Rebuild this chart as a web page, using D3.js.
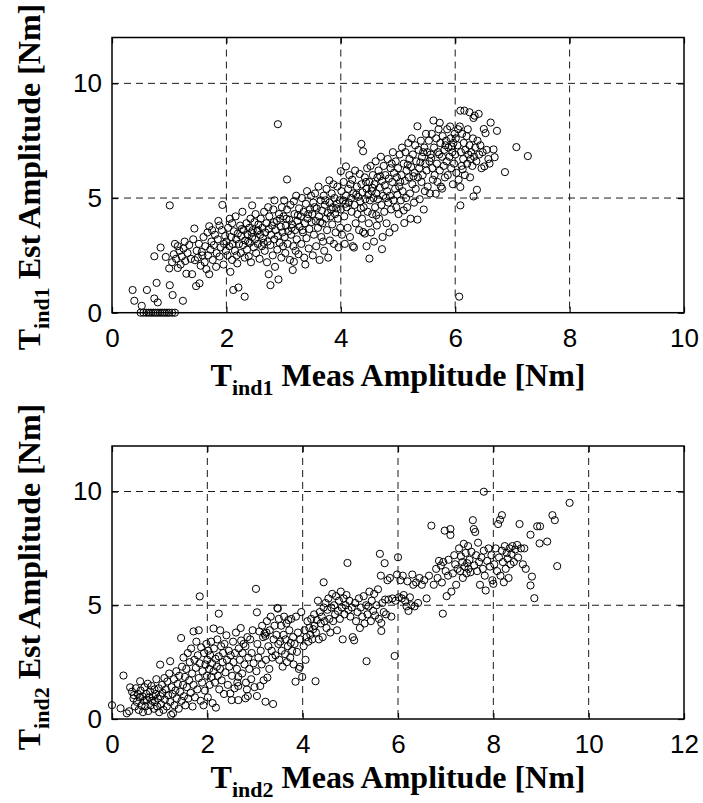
<!DOCTYPE html>
<html lang="en">
  <head>
    <meta charset="utf-8">
    <title>Tind amplitude</title>
    <script src="https://d3js.org/d3.v7.min.js"></script>
    <style>
      body { margin: 0; background: #fff; }
      .grid line { stroke: #000; stroke-width: 0.9; stroke-dasharray: 7,5; }
      .axis path { display: none; }
      .axis line { stroke: #000; stroke-width: 1.2; }
      .axis text { font-family: "Liberation Sans", Arial, sans-serif; font-size: 26px; fill: #000; }
      .frame { fill: none; stroke: #000; stroke-width: 1.5; }
      .title { font-family: "Liberation Serif", "Times New Roman", serif; font-weight: bold; font-size: 32px; }
      .pt { fill: none; stroke: #000; stroke-width: 1; }
    </style>
  </head>
  <body>
    <script>
      var ind1Points = [
        [0.36,0.99],[0.39,0.52],[0.52,0.30],[0.61,0.99],[0.74,2.46],[0.78,1.30],[0.74,0.62],[0.80,0.45],[0.85,2.84],[0.94,2.43],[1.01,4.68],[1.01,1.20],[1.06,0.77],[1.24,0.52],[1.0,1.93],
        [0.50,0],[0.55,0],[0.60,0],[0.64,0],[0.68,0],[0.72,0],[0.76,0],[0.80,0],[0.84,0],[0.88,0],[0.92,0],[0.96,0],[1.00,0],[1.05,0],[1.10,0],
        [1.05,2.2],[1.08,2.55],[1.1,3.0],[1.12,2.35],[1.15,1.95],[1.18,2.7],[1.2,2.1],[1.22,2.45],[1.25,2.8],[1.28,2.25],[1.3,1.7],[1.32,2.6],[1.35,2.95],[1.38,2.35],[1.4,1.68],[1.42,3.2],[1.44,3.67],[1.45,2.29],[1.47,1.16],[1.48,2.7],[1.15,2.9],[1.27,3.1],
        [1.5,2.4],[1.52,3.0],[1.53,1.28],[1.55,2.05],[1.57,2.65],[1.6,3.3],[1.62,2.2],[1.63,2.9],[1.65,1.9],[1.67,3.5],[1.68,2.5],[1.7,1.68],[1.7,3.77],[1.72,2.75],[1.74,3.1],[1.76,2.3],[1.78,2.95],[1.8,3.4],[1.82,2.0],[1.83,2.6],[1.85,3.2],[1.86,4.0],[1.88,2.45],[1.9,2.85],[1.92,3.6],[1.93,4.7],[1.95,2.1],[1.96,3.0],[1.98,3.35],[1.99,2.7],[1.58,2.5],[1.75,3.6],[1.88,3.8],
        [2.0,3.1],[2.02,2.5],[2.03,3.7],[2.05,2.9],[2.06,4.1],[2.07,1.78],[2.08,3.3],[2.1,2.3],[2.11,3.0],[2.12,0.99],[2.13,3.55],[2.15,2.7],[2.16,4.2],[2.17,3.2],[2.19,2.15],[2.2,3.45],[2.21,1.1],[2.22,3.0],[2.24,3.8],[2.25,2.6],[2.26,3.35],[2.28,4.4],[2.29,2.95],[2.3,3.6],[2.32,0.7],[2.32,2.4],[2.33,3.15],[2.35,3.9],[2.36,2.75],[2.37,3.4],[2.39,2.46],[2.4,3.7],[2.41,3.05],[2.42,4.1],[2.43,2.2],[2.45,4.68],[2.45,3.3],[2.46,3.6],[2.48,2.85],[2.49,3.95],[2.1,3.9],[2.18,2.5],[2.27,3.65],[2.38,3.1],[2.44,3.5],
        [2.5,3.2],[2.51,4.3],[2.52,2.6],[2.54,3.55],[2.55,3.0],[2.56,3.85],[2.58,2.35],[2.59,3.4],[2.6,4.1],[2.62,2.9],[2.63,3.7],[2.64,3.25],[2.66,4.4],[2.67,2.7],[2.68,3.5],[2.7,3.9],[2.71,2.2],[2.72,3.1],[2.74,1.68],[2.74,3.65],[2.75,4.2],[2.77,1.2],[2.77,2.95],[2.78,3.4],[2.8,3.8],[2.81,2.5],[2.82,4.5],[2.84,3.2],[2.84,4.9],[2.85,2.0],[2.86,3.6],[2.88,4.0],[2.89,2.75],[2.9,8.22],[2.9,3.35],[2.91,1.45],[2.92,4.3],[2.93,3.05],[2.95,3.75],[2.96,2.4],[2.97,4.6],[2.98,3.5],[2.99,2.9],[2.55,3.6],[2.65,3.05],[2.73,4.6],[2.83,3.95],[2.94,4.1],
        [3.0,4.2],[3.01,4.9],[3.02,3.3],[3.03,2.6],[3.04,3.8],[3.06,5.81],[3.06,4.5],[3.07,3.0],[3.08,3.55],[3.1,4.05],[3.11,2.3],[3.12,4.7],[3.13,3.4],[3.15,3.85],[3.16,1.86],[3.17,2.9],[3.18,2.22],[3.18,4.86],[3.19,4.3],[3.2,3.6],[3.22,5.1],[3.23,3.2],[3.24,4.0],[3.26,2.55],[3.27,4.55],[3.28,3.75],[3.3,4.2],[3.31,3.0],[3.32,5.0],[3.34,3.5],[3.35,4.4],[3.36,2.4],[3.37,3.9],[3.39,4.75],[3.4,3.25],[3.41,5.3],[3.42,4.1],[3.44,2.8],[3.45,3.65],[3.46,4.5],[3.48,5.1],[3.49,3.95],[3.05,4.1],[3.14,3.7],[3.25,4.25],[3.33,3.6],[3.43,4.3],[3.21,2.7],[3.38,2.1],
        [3.5,4.3],[3.51,2.5],[3.52,4.8],[3.53,3.4],[3.55,5.2],[3.56,4.0],[3.57,2.9],[3.58,4.55],[3.6,3.7],[3.61,5.5],[3.62,4.2],[3.63,2.3],[3.65,4.9],[3.66,3.3],[3.67,4.45],[3.68,3.9],[3.7,5.1],[3.71,2.7],[3.72,4.7],[3.74,4.1],[3.75,5.4],[3.76,3.6],[3.77,4.35],[3.78,2.4],[3.8,5.77],[3.8,4.8],[3.81,3.15],[3.83,4.5],[3.84,5.2],[3.85,3.85],[3.86,4.6],[3.88,3.0],[3.89,5.0],[3.9,4.3],[3.91,3.5],[3.93,4.75],[3.94,5.5],[3.95,4.1],[3.96,2.85],[3.98,4.9],[3.99,3.7],[3.54,4.6],[3.64,3.95],[3.73,4.9],[3.82,4.2],[3.92,4.55],[3.69,3.1],[3.87,5.6],
        [4.0,6.17],[4.0,4.5],[4.01,5.3],[4.02,3.4],[4.04,4.9],[4.05,5.7],[4.06,4.2],[4.07,3.0],[4.09,6.38],[4.09,5.1],[4.1,4.6],[4.12,3.7],[4.13,5.4],[4.14,4.8],[4.15,6.0],[4.16,3.3],[4.18,5.0],[4.19,4.4],[4.2,5.8],[4.21,2.9],[4.22,5.2],[4.23,2.84],[4.24,4.7],[4.25,6.2],[4.26,3.9],[4.28,5.5],[4.29,4.3],[4.3,5.05],[4.32,3.6],[4.33,6.05],[4.34,4.85],[4.36,7.36],[4.36,5.6],[4.37,4.1],[4.38,5.25],[4.39,7.04],[4.39,3.52],[4.4,4.6],[4.42,3.45],[4.42,5.9],[4.43,4.95],[4.45,2.9],[4.45,5.4],[4.46,6.3],[4.47,4.4],[4.48,5.15],[4.49,3.9],[4.5,2.36],[4.08,4.75],[4.17,5.6],[4.27,5.15],[4.35,4.55],[4.44,5.7],
        [4.5,5.7],[4.51,4.9],[4.52,6.4],[4.53,3.5],[4.54,5.3],[4.55,4.3],[4.56,6.0],[4.57,5.0],[4.58,3.1],[4.59,5.6],[4.6,4.6],[4.61,6.6],[4.62,5.2],[4.63,3.8],[4.64,5.9],[4.65,4.95],[4.66,6.2],[4.67,4.1],[4.68,5.45],[4.7,6.8],[4.71,4.7],[4.72,2.77],[4.72,5.75],[4.73,3.3],[4.74,5.1],[4.75,6.4],[4.76,4.4],[4.77,5.55],[4.78,6.0],[4.8,3.9],[4.81,5.3],[4.82,6.7],[4.83,4.8],[4.84,5.85],[4.85,3.5],[4.86,5.1],[4.87,6.3],[4.88,4.5],[4.9,5.7],[4.91,7.0],[4.92,4.9],[4.93,6.1],[4.94,3.7],[4.95,5.4],[4.96,6.6],[4.97,4.6],[4.98,5.9],[4.99,5.15],[4.55,5.45],[4.69,5.95],[4.79,5.0],[4.89,6.5],[4.62,4.25],
        [5.0,6.3],[5.01,4.3],[5.02,5.5],[5.03,6.9],[5.05,4.9],[5.06,6.0],[5.07,7.2],[5.08,5.3],[5.1,4.46],[5.1,6.5],[5.11,3.91],[5.12,5.75],[5.13,7.0],[5.14,5.0],[5.15,6.2],[5.16,4.6],[5.18,7.4],[5.19,5.9],[5.2,6.7],[5.21,5.2],[5.22,4.1],[5.23,6.35],[5.24,7.6],[5.25,5.6],[5.26,6.9],[5.28,4.8],[5.29,6.1],[5.3,7.3],[5.31,5.4],[5.32,6.6],[5.34,8.13],[5.34,4.06],[5.35,5.9],[5.36,7.1],[5.37,6.3],[5.38,4.95],[5.4,7.5],[5.41,5.7],[5.42,6.8],[5.43,6.0],[5.45,4.5],[5.46,7.2],[5.47,5.3],[5.48,6.5],[5.49,7.8],[5.04,5.7],[5.17,6.45],[5.27,5.95],[5.39,6.55],[5.44,7.0],
        [5.5,6.2],[5.51,7.0],[5.52,5.5],[5.54,7.5],[5.55,6.6],[5.56,5.2],[5.57,6.9],[5.59,7.8],[5.6,6.3],[5.61,5.8],[5.62,8.38],[5.63,7.2],[5.64,6.0],[5.66,5.19],[5.67,7.6],[5.68,6.5],[5.69,5.7],[5.7,7.0],[5.71,8.0],[5.73,8.28],[5.73,6.2],[5.74,7.4],[5.75,5.5],[5.77,5.41],[5.77,6.8],[5.78,7.7],[5.8,6.4],[5.81,7.1],[5.82,5.9],[5.84,7.5],[5.85,6.6],[5.86,8.0],[5.87,6.0],[5.88,7.2],[5.9,6.8],[5.91,8.12],[5.92,7.6],[5.93,6.3],[5.95,7.0],[5.96,5.6],[5.97,7.4],[5.98,6.5],[5.99,7.8],[5.58,6.75],[5.72,6.9],[5.83,7.3],[5.94,7.25],
        [6.0,6.9],[6.01,7.6],[6.02,6.1],[6.04,7.3],[6.05,8.0],[6.06,5.8],[6.07,0.70],[6.08,8.12],[6.09,8.81],[6.09,5.48],[6.09,4.68],[6.1,7.0],[6.11,6.4],[6.12,7.8],[6.14,6.7],[6.15,7.4],[6.16,8.81],[6.17,6.0],[6.18,7.1],[6.2,7.7],[6.21,6.5],[6.22,8.0],[6.23,6.9],[6.25,8.74],[6.25,7.3],[6.26,5.9],[6.28,7.0],[6.3,6.4],[6.31,7.6],[6.32,8.49],[6.32,5.07],[6.33,6.8],[6.34,8.59],[6.35,7.2],[6.37,6.6],[6.38,5.36],[6.39,7.5],[6.41,8.67],[6.42,6.9],[6.44,7.3],[6.46,6.3],[6.48,7.0],[6.5,8.01],[6.13,6.25],[6.27,6.7],
        [6.51,6.38],[6.53,7.83],[6.55,7.1],[6.58,6.7],[6.62,8.29],[6.67,7.12],[6.69,6.78],[6.73,7.93],[6.6,6.5],[6.87,6.13],[7.07,7.22],[7.27,6.83]
      ];

      var ind2Points = [
        [0.0,0.61],[0.18,0.47],[0.24,1.91],[0.31,0.25],[0.36,0.34],[0.38,1.39],[0.42,1.2],[0.45,0.9],[0.48,0.55],[0.5,1.35],[0.46,1.05],
        [0.52,0.75],[0.54,1.1],[0.56,0.4],[0.58,0.95],[0.59,1.66],[0.6,1.25],[0.62,0.6],[0.64,1.0],[0.65,0.3],[0.67,0.8],[0.68,1.4],[0.7,0.55],[0.72,1.1],[0.73,0.85],[0.75,1.55],[0.76,0.35],[0.78,0.95],[0.8,1.2],[0.81,0.6],[0.83,1.45],[0.84,0.8],[0.86,1.0],[0.88,0.45],[0.89,1.3],[0.9,0.75],[0.92,1.1],[0.93,1.75],[0.95,0.55],[0.96,0.9],[0.98,1.35],[0.99,0.3],
        [1.01,2.39],[1.02,1.0],[1.03,0.65],[1.05,1.5],[1.06,1.15],[1.08,0.4],[1.1,1.8],[1.11,0.85],[1.13,1.3],[1.15,0.55],[1.16,1.65],[1.18,1.05],[1.2,2.0],[1.22,2.54],[1.22,0.75],[1.24,0.18],[1.25,1.4],[1.27,1.1],[1.28,0.25],[1.3,1.75],[1.31,0.6],[1.33,1.25],[1.35,2.1],[1.36,0.9],[1.38,1.55],[1.4,0.45],[1.41,1.9],[1.43,1.2],[1.45,3.56],[1.46,0.8],[1.47,2.3],[1.49,1.5],
        [1.5,2.7],[1.51,1.0],[1.53,1.85],[1.54,0.6],[1.56,2.2],[1.57,1.4],[1.59,2.9],[1.6,0.9],[1.62,1.7],[1.63,2.5],[1.65,1.15],[1.66,3.1],[1.68,2.0],[1.69,0.55],[1.71,3.85],[1.71,1.5],[1.73,2.6],[1.74,0.95],[1.76,2.25],[1.77,3.4],[1.79,1.3],[1.8,2.8],[1.82,3.9],[1.82,1.8],[1.84,5.39],[1.84,2.45],[1.86,0.8],[1.87,3.15],[1.89,1.6],[1.9,2.1],[1.92,0.6],[1.93,2.9],[1.95,1.25],[1.96,2.4],[1.98,3.3],[1.99,1.9],
        [2.0,2.6],[2.01,0.95],[2.02,3.0],[2.04,2.2],[2.05,1.5],[2.06,2.8],[2.08,3.4],[2.09,1.85],[2.1,2.45],[2.11,0.7],[2.13,3.98],[2.13,2.1],[2.14,3.1],[2.16,1.6],[2.17,2.65],[2.18,0.5],[2.2,2.3],[2.21,3.5],[2.22,1.9],[2.24,4.63],[2.24,2.75],[2.25,1.3],[2.27,3.9],[2.27,2.2],[2.29,3.2],[2.3,1.7],[2.32,2.5],[2.33,2.9],[2.35,1.1],[2.36,3.3],[2.38,2.05],[2.4,3.68],[2.41,2.6],[2.43,1.5],[2.45,3.0],[2.46,2.3],[2.48,1.12],[2.49,2.8],
        [2.51,0.83],[2.52,1.9],[2.54,3.4],[2.55,2.5],[2.57,1.35],[2.58,2.9],[2.6,3.8],[2.62,2.2],[2.63,1.6],[2.65,0.83],[2.65,1.45],[2.65,1.85],[2.66,3.1],[2.68,2.6],[2.7,4.0],[2.71,3.45],[2.73,2.0],[2.74,2.9],[2.76,3.3],[2.78,2.4],[2.8,0.91],[2.8,3.2],[2.81,1.6],[2.83,1.3],[2.84,3.6],[2.85,1.01],[2.86,2.7],[2.88,2.2],[2.9,3.5],[2.92,1.75],[2.93,2.9],[2.95,3.9],[2.97,2.45],[2.99,1.4],
        [3.02,5.72],[3.03,2.1],[3.04,4.69],[3.04,1.01],[3.05,3.3],[3.07,2.7],[3.09,3.85],[3.11,1.45],[3.12,3.0],[3.14,2.4],[3.15,4.1],[3.17,3.6],[3.18,1.7],[3.2,3.75],[3.22,0.76],[3.22,3.65],[3.23,2.6],[3.24,3.8],[3.25,4.3],[3.26,1.82],[3.28,3.2],[3.3,2.2],[3.31,3.9],[3.33,4.5],[3.35,3.0],[3.36,2.7],[3.38,0.66],[3.39,3.5],[3.41,4.1],[3.43,2.8],[3.45,3.7],[3.47,4.88],[3.48,4.85],[3.49,3.3],
        [3.5,4.4],[3.51,2.6],[3.53,3.4],[3.55,4.1],[3.56,3.0],[3.58,2.3],[3.6,3.7],[3.61,4.5],[3.63,2.85],[3.64,3.5],[3.66,4.2],[3.67,2.5],[3.69,3.2],[3.7,4.35],[3.72,3.9],[3.74,2.7],[3.75,3.35],[3.76,4.4],[3.78,3.0],[3.8,3.6],[3.81,2.4],[3.83,3.3],[3.85,1.64],[3.86,4.5],[3.88,2.95],[3.9,3.8],[3.92,2.2],[3.94,2.29],[3.95,3.5],[3.97,4.7],[3.99,1.85],
        [4.02,3.2],[4.04,3.9],[4.06,2.6],[4.08,3.6],[4.1,4.3],[4.12,3.4],[4.14,4.0],[4.16,3.7],[4.18,4.4],[4.2,3.5],[4.22,3.95],[4.24,4.6],[4.25,4.1],[4.27,1.66],[4.28,3.8],[4.3,4.35],[4.32,5.2],[4.34,3.5],[4.36,4.7],[4.38,4.2],[4.4,4.5],[4.42,3.6],[4.44,6.01],[4.44,4.9],[4.46,4.3],[4.48,5.1],
        [4.5,4.0],[4.52,4.8],[4.54,5.3],[4.56,4.4],[4.58,3.8],[4.6,4.9],[4.62,5.5],[4.64,4.3],[4.66,5.0],[4.68,4.6],[4.7,5.4],[4.72,3.9],[4.74,4.75],[4.76,5.2],[4.78,4.4],[4.8,5.6],[4.82,4.9],[4.84,3.5],[4.86,5.3],[4.88,4.6],[4.9,5.0],[4.92,5.45],[4.94,6.86],[4.96,4.8],[4.98,5.2],
        [5.0,4.5],[5.03,4.9],[5.05,3.6],[5.08,3.46],[5.1,5.1],[5.12,4.3],[5.15,4.7],[5.18,5.3],[5.2,4.0],[5.22,4.9],[5.25,4.5],[5.28,5.4],[5.3,4.2],[5.33,5.0],[5.34,2.54],[5.36,4.6],[5.38,4.95],[5.4,5.6],[5.43,4.3],[5.45,5.2],[5.48,4.75],[5.5,5.5],[5.52,4.55],[5.55,5.0],[5.58,5.7],[5.6,4.4],[5.62,7.26],[5.64,6.3],[5.65,3.87],[5.65,4.22],[5.67,5.1],[5.7,4.7],[5.72,6.85],[5.73,5.25],[5.75,4.6],[5.78,6.1],[5.8,5.25],[5.83,6.2],[5.86,4.5],[5.88,5.3],[5.93,2.77],[5.95,5.2],[5.98,6.35],
        [6.0,7.11],[6.02,5.35],[6.05,6.1],[6.08,5.3],[6.1,6.3],[6.12,5.45],[6.15,5.2],[6.18,4.95],[6.2,6.05],[6.22,4.75],[6.25,5.35],[6.28,5.0],[6.3,6.35],[6.32,5.9],[6.35,4.95],[6.38,6.0],[6.42,5.1],[6.45,6.2],[6.5,5.9],[6.55,6.1],[6.6,5.3],[6.65,6.3],[6.7,8.5],[6.75,5.9],[6.8,6.6],[6.83,6.2],[6.86,6.95],[6.9,6.75],[6.92,6.0],[6.94,4.63],[6.95,6.9],[6.98,8.28],
        [7.0,6.5],[7.02,5.4],[7.05,6.3],[7.06,7.0],[7.1,8.35],[7.1,8.09],[7.12,5.6],[7.15,6.4],[7.18,7.2],[7.2,6.8],[7.22,5.9],[7.25,6.6],[7.28,7.5],[7.3,6.5],[7.32,7.15],[7.35,6.9],[7.36,6.2],[7.38,7.7],[7.4,6.7],[7.42,7.3],[7.44,6.4],[7.45,6.85],[7.47,7.6],[7.48,6.6],[7.5,7.0],[7.52,6.45],[7.54,7.35],[7.57,8.74],[7.59,8.35],[7.6,6.75],[7.62,8.22],[7.64,7.2],[7.66,6.5],[7.68,7.75],[7.7,6.9],[7.72,5.9],[7.75,7.1],[7.78,6.6],[7.8,9.99],[7.8,7.4],[7.82,6.3],[7.84,5.65],[7.87,6.95],[7.9,7.5],[7.93,6.7],[7.96,7.2],[7.98,6.1],
        [8.0,5.94],[8.02,6.8],[8.05,7.5],[8.08,6.5],[8.1,8.57],[8.12,7.1],[8.14,8.76],[8.15,6.3],[8.18,8.96],[8.18,7.4],[8.2,6.9],[8.22,6.01],[8.24,7.6],[8.26,6.6],[8.28,7.3],[8.3,7.05],[8.32,6.2],[8.34,7.5],[8.36,6.8],[8.38,7.25],[8.4,7.6],[8.43,6.9],[8.46,7.45],[8.5,7.65],[8.52,7.1],[8.55,8.57],[8.58,7.5],[8.62,6.8],[8.65,7.5],[8.68,6.6],
        [8.78,8.10],[8.78,5.87],[8.81,6.26],[8.86,5.31],[8.92,8.47],[8.98,8.47],[8.97,7.72],[9.13,7.80],[9.24,8.96],[9.29,8.74],[9.34,6.72],[9.60,9.50]
      ];

      var xTicks1 = [0, 2, 4, 6, 8, 10];
      var xTicks2 = [0, 2, 4, 6, 8, 10, 12];
      var yTicks = [0, 5, 10];

      var width = 703, height = 803;

      var svg = d3.select("body").append("svg")
        .attr("width", width)
        .attr("height", height)
        .style("background", "#fff");

      drawPanel({
        pts: ind1Points, xTicks: xTicks1, xMax: 10,
        left: 112, right: 684, top: 37.5, bottom: 312.7,
        sub: "ind1", xTitleY: 386, yTitleCy: 177
      });
      drawPanel({
        pts: ind2Points, xTicks: xTicks2, xMax: 12,
        left: 112, right: 684, top: 446, bottom: 719,
        sub: "ind2", xTitleY: 788, yTitleCy: 577
      });

      function drawPanel(p) {
        var x = d3.scaleLinear().domain([0, p.xMax]).range([p.left, p.right]);
        var y = d3.scaleLinear().domain([0, 12]).range([p.bottom, p.top]);
        var g = svg.append("g");

        // dashed grid
        var grid = g.append("g").attr("class", "grid");
        grid.selectAll(".gx")
          .data(p.xTicks.filter(function(t){ return t > 0 && t < p.xMax; }))
          .enter().append("line")
          .attr("x1", function(d){ return x(d); }).attr("x2", function(d){ return x(d); })
          .attr("y1", p.top).attr("y2", p.bottom);
        grid.selectAll(".gy")
          .data(yTicks.filter(function(t){ return t > 0; }))
          .enter().append("line")
          .attr("y1", function(d){ return y(d); }).attr("y2", function(d){ return y(d); })
          .attr("x1", p.left).attr("x2", p.right);

        // axes, ticks pointing inside like matlab
        g.append("g").attr("class", "axis")
          .attr("transform", "translate(0," + p.bottom + ")")
          .call(d3.axisBottom(x).tickValues(p.xTicks).tickSize(-6).tickPadding(16).tickFormat(d3.format("d")));
        g.append("g").attr("class", "axis")
          .attr("transform", "translate(0," + p.top + ")")
          .call(d3.axisTop(x).tickValues(p.xTicks).tickSize(-6).tickFormat(""));
        g.append("g").attr("class", "axis")
          .attr("transform", "translate(" + p.left + ",0)")
          .call(d3.axisLeft(y).tickValues(yTicks).tickSize(-6).tickPadding(10).tickFormat(d3.format("d")));
        g.append("g").attr("class", "axis")
          .attr("transform", "translate(" + p.right + ",0)")
          .call(d3.axisRight(y).tickValues(yTicks).tickSize(-6).tickFormat(""));

        g.append("rect").attr("class", "frame")
          .attr("x", p.left).attr("y", p.top)
          .attr("width", p.right - p.left).attr("height", p.bottom - p.top);

        g.selectAll("circle")
          .data(p.pts)
          .enter().append("circle")
          .attr("class", "pt")
          .attr("cx", function(d){ return x(d[0]); })
          .attr("cy", function(d){ return y(d[1]); })
          .attr("r", 3.6);

        // titles with subscript
        var xt = g.append("text").attr("class", "title")
          .attr("x", (p.left + p.right) / 2).attr("y", p.xTitleY)
          .attr("text-anchor", "middle");
        addTitle(xt, p.sub, " Meas Amplitude [Nm]");

        var yt = g.append("text").attr("class", "title")
          .attr("transform", "translate(40," + p.yTitleCy + ") rotate(-90)")
          .attr("text-anchor", "middle");
        addTitle(yt, p.sub, " Est Amplitude [Nm]");
      }

      function addTitle(t, sub, rest) {
        t.append("tspan").text("T");
        t.append("tspan").attr("dy", 9).style("font-size", "22px").text(sub);
        t.append("tspan").attr("dy", -9).text(rest);
      }
    </script>
  </body>
</html>
